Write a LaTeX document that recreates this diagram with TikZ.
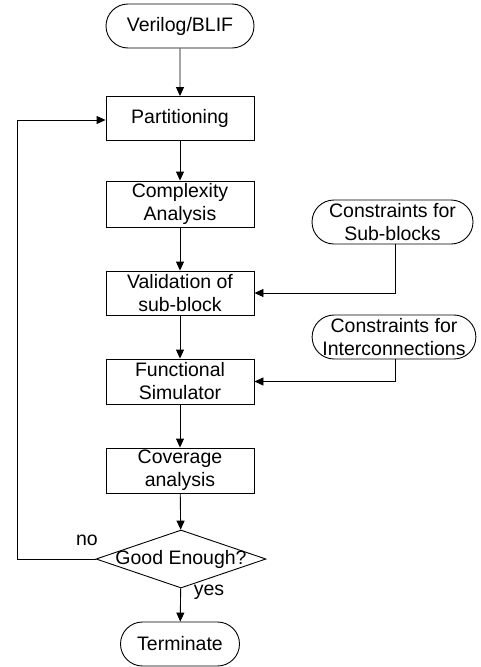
\documentclass[tikz,border=0pt]{standalone}
\usepackage{fontspec}
\setmainfont{Liberation Sans}
\usetikzlibrary{shapes.geometric,shapes.misc,arrows.meta}
\begin{document}
\begin{tikzpicture}[x=1pt,y=-1pt,
  every node/.style={font=\fontsize{19.5}{23}\selectfont, align=center, inner sep=0pt},
  procbox/.style={draw, line width=0.9pt, minimum width=148pt, minimum height=44pt},
  termbox/.style={draw, line width=0.9pt, rounded rectangle, minimum height=44pt},
  decbox/.style={draw, line width=0.9pt, diamond, minimum width=170pt, minimum height=58pt},
  flow/.style={line width=0.9pt, -{Triangle[length=9pt,width=8pt]}},
  lbl/.style={font=\fontsize{19.5}{23}\selectfont}
]
\useasboundingbox (0,0) rectangle (480,667);
\node[termbox, minimum width=148pt] (vb) at (180,26) {Verilog/BLIF};
\node[procbox] (part) at (180,118.5) {Partitioning};
\node[procbox, minimum height=46pt] (cplx) at (180,204) {Complexity\\Analysis};
\node[termbox, minimum width=161pt] (csb) at (392.5,222) {Constraints for\\Sub-blocks};
\node[procbox] (val) at (180,293) {Validation of\\sub-block};
\node[termbox, minimum width=162pt] (cic) at (394,337) {Constraints for\\Interconnections};
\node[procbox, minimum height=45pt] (fsim) at (180,381.5) {Functional\\Simulator};
\node[procbox, minimum height=45pt] (cov) at (180,470.5) {Coverage\\analysis};
\node[decbox] (dec) at (181,559) {};
\node at (181,559) {Good Enough?};
\node[termbox, minimum width=119pt] (term) at (180,644) {Terminate};
\coordinate (lc) at (17,559);
\coordinate (lt) at (17,120);
\draw[flow] (vb) -- (part);
\draw[flow] (part) -- (cplx);
\draw[flow] (cplx) -- (val);
\draw[flow] (val) -- (fsim);
\draw[flow] (fsim) -- (cov);
\draw[flow] (cov) -- (dec);
\draw[flow] (dec) -- (term);
\draw[flow] (csb.south -| 395,0) |- (val.east);
\draw[flow] (cic.south -| 395,0) |- (fsim.east);
\draw[flow] (dec.west) -- (lc) -- (lt) -- (lt -| part.west);
\node[lbl] at (87,540) {no};
\node[lbl] at (209,592) {yes};
\end{tikzpicture}
\end{document}
